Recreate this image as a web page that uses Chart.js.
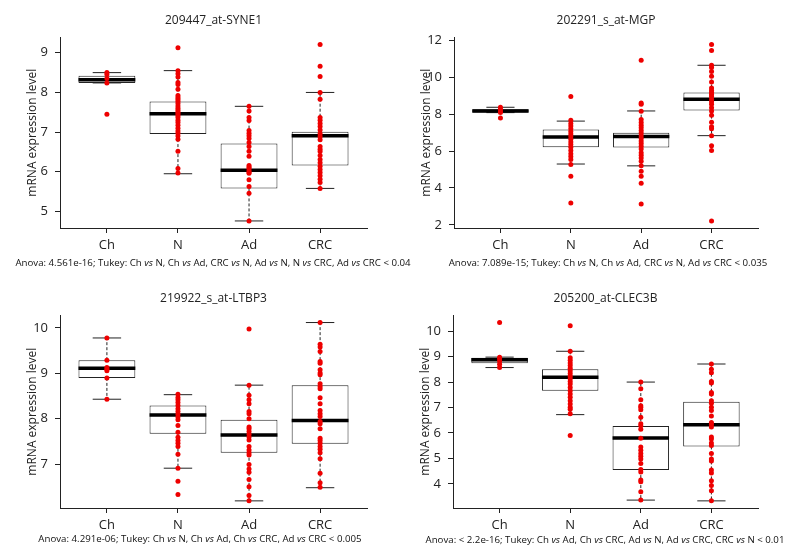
<!DOCTYPE html>
<html>
<head>
<meta charset="utf-8">
<script src="https://cdn.jsdelivr.net/npm/chart.js@4.4.0/dist/chart.umd.min.js"></script>
<style>
html, body { margin: 0; padding: 0; background: #fff; width: 800px; height: 557px; overflow: hidden; }
canvas { position: absolute; }
.note { position: absolute; font-family: 'Open Sans', sans-serif; font-size: 9.7px; color: #111; white-space: nowrap; transform: translate(-50%, -50%); }
</style>
</head>
<body>
<canvas id="c0" width="400" height="260" style="left:0px;top:0px"></canvas>
<canvas id="c1" width="400" height="260" style="left:394px;top:0px"></canvas>
<canvas id="c2" width="400" height="262" style="left:0px;top:278px"></canvas>
<canvas id="c3" width="400" height="262" style="left:393px;top:278px"></canvas>
<script>
// groups on the x axis
const groups = ['Ch', 'N', 'Ad', 'CRC'];

// box stats per group: [lower whisker, Q1, median, Q3, upper whisker]
const syne1Box = [[8.24, 8.24, 8.32, 8.42, 8.50], [5.95, 6.95, 7.46, 7.77, 8.55], [4.76, 5.58, 6.04, 6.71, 7.65], [5.58, 6.16, 6.91, 7.01, 8.00]];
const mgpBox = [[8.09, 8.09, 8.18, 8.27, 8.38], [5.30, 6.21, 6.77, 7.18, 7.63], [5.20, 6.20, 6.80, 7.00, 8.18], [6.84, 8.20, 8.82, 9.18, 10.66]];
const ltbp3Box = [[8.43, 8.90, 9.11, 9.29, 9.78], [6.91, 7.67, 8.08, 8.29, 8.53], [6.19, 7.25, 7.64, 7.98, 8.74], [6.48, 7.45, 7.96, 8.74, 10.12]];
const clec3bBox = [[8.57, 8.74, 8.88, 8.96, 8.98], [6.72, 7.66, 8.19, 8.50, 9.21], [3.36, 4.54, 5.80, 6.27, 8.00], [3.33, 5.47, 6.32, 7.23, 8.71]];

// individual samples per group
const syne1Points = [
    [8.50, 8.45, 8.35, 8.24, 7.45],
    [9.13, 8.55, 8.47, 8.39, 8.25, 8.20, 8.08, 7.92, 7.87, 7.83, 7.78, 7.72, 7.66, 7.60, 7.55, 7.50, 7.46, 7.42, 7.37, 7.30, 7.24, 7.17, 7.10, 7.03, 6.97, 6.90, 6.82, 6.52, 6.08, 5.97],
    [7.65, 7.53, 7.37, 7.29, 7.04, 6.97, 6.91, 6.84, 6.74, 6.64, 6.52, 6.39, 6.16, 6.12, 6.09, 6.03, 5.99, 5.96, 5.80, 5.63, 5.46, 4.76],
    [9.21, 8.66, 8.40, 8.00, 7.83, 7.37, 7.30, 7.22, 7.14, 7.05, 6.96, 6.89, 6.81, 6.64, 6.57, 6.51, 6.41, 6.31, 6.23, 6.14, 6.06, 5.98, 5.90, 5.81, 5.73, 5.58]
];
const mgpPoints = [
    [8.38, 8.27, 8.18, 8.09, 7.80],
    [8.96, 7.68, 7.50, 7.36, 7.21, 7.07, 6.93, 6.79, 6.64, 6.50, 6.36, 6.21, 6.04, 5.86, 5.71, 5.54, 5.27, 4.64, 3.18],
    [10.93, 8.61, 8.54, 8.16, 7.71, 7.55, 7.41, 7.27, 7.12, 6.98, 6.84, 6.70, 6.55, 6.41, 6.27, 6.12, 5.91, 5.77, 5.63, 5.45, 5.20, 4.91, 4.64, 4.25, 3.13],
    [11.79, 11.46, 10.66, 10.54, 10.32, 10.07, 9.75, 9.43, 9.29, 9.18, 9.07, 8.96, 8.82, 8.68, 8.54, 8.36, 8.18, 7.95, 7.57, 7.32, 7.21, 6.84, 6.29, 6.04, 2.21]
];
const ltbp3Points = [
    [9.78, 9.29, 9.13, 9.09, 9.06, 8.90, 8.43],
    [8.54, 8.47, 8.42, 8.36, 8.29, 8.22, 8.16, 8.10, 8.04, 7.98, 7.85, 7.70, 7.59, 7.52, 7.46, 7.39, 7.22, 6.91, 6.62, 6.33],
    [9.98, 8.74, 8.52, 8.42, 8.33, 8.16, 8.11, 8.00, 7.82, 7.78, 7.72, 7.66, 7.60, 7.53, 7.39, 7.31, 7.25, 7.20, 6.99, 6.89, 6.82, 6.66, 6.50, 6.31, 6.19],
    [10.12, 9.64, 9.58, 9.48, 9.26, 9.22, 9.08, 9.01, 8.97, 8.77, 8.71, 8.66, 8.46, 8.33, 8.18, 8.11, 8.05, 7.94, 7.89, 7.78, 7.57, 7.52, 7.46, 7.39, 7.33, 7.25, 7.12, 6.80, 6.59, 6.49]
];
const clec3bPoints = [
    [10.34, 8.98, 8.92, 8.83, 8.70, 8.57],
    [10.21, 9.21, 8.96, 8.86, 8.75, 8.65, 8.54, 8.44, 8.34, 8.23, 8.13, 8.02, 7.92, 7.79, 7.66, 7.53, 7.40, 7.27, 7.14, 7.01, 6.93, 6.75, 5.90],
    [8.00, 7.74, 7.30, 7.07, 7.01, 6.91, 6.62, 6.36, 6.28, 6.15, 5.79, 5.45, 5.32, 5.19, 5.08, 4.98, 4.80, 4.56, 4.46, 4.15, 4.08, 3.69, 3.36],
    [8.71, 8.50, 8.37, 8.02, 7.96, 7.59, 7.53, 7.27, 7.17, 7.01, 6.88, 6.67, 6.41, 6.33, 6.23, 5.84, 5.76, 5.60, 5.51, 5.19, 4.98, 4.90, 4.54, 4.43, 4.12, 3.93, 3.73, 3.33]
];

const titles = ['209447_at-SYNE1', '202291_s_at-MGP', '219922_s_at-LTBP3', '205200_at-CLEC3B'];
const yStep = [1, 2, 1, 1];
const notes = [
    'Anova: 4.561e-16; Tukey: Ch vs N, Ch vs Ad, CRC vs N, Ad vs N, N vs CRC, Ad vs CRC < 0.04',
    'Anova: 7.089e-15; Tukey: Ch vs N, Ch vs Ad, CRC vs N, Ad vs CRC < 0.035',
    'Anova: 4.291e-06; Tukey: Ch vs N, Ch vs Ad, Ch vs CRC, Ad vs CRC < 0.005',
    'Anova: < 2.2e-16; Tukey: Ch vs Ad, Ch vs CRC, Ad vs N, Ad vs CRC, CRC vs N < 0.01'
];

// layout of the four panels
const padRight = [33, 36, 33, 35];
const notePos = [[213, 262], [608, 262], [200, 538], [605, 539]];

const FONT = "'Open Sans', sans-serif";
const INK = '#222';
const BOX_HALF = 0.4;
const CAP_HALF = 0.2;

function makePanel(n, box, points) {
    const all = points.flat().concat(box.flat());
    const lo = Math.min(...all);
    const hi = Math.max(...all);
    const pad = (hi - lo) * 0.04;

    let pointData = [];
    let boxData = [];
    let medData = [];
    let whiskData = [];
    let capData = [];

    points.forEach((vals, i) => {
        vals.forEach(v => pointData.push({x: i, y: v}));
    });
    box.forEach((b, i) => {
        const [mn, q1, md, q3, mx] = b;
        boxData.push({x: i, y: [q1, q3]});
        medData.push({x: i - BOX_HALF, y: md}, {x: i + BOX_HALF, y: md}, {x: i, y: null});
        whiskData.push({x: i, y: q3}, {x: i, y: mx}, {x: i, y: null});
        whiskData.push({x: i, y: q1}, {x: i, y: mn}, {x: i, y: null});
        capData.push({x: i - CAP_HALF, y: mx}, {x: i + CAP_HALF, y: mx}, {x: i, y: null});
        capData.push({x: i - CAP_HALF, y: mn}, {x: i + CAP_HALF, y: mn}, {x: i, y: null});
    });

    const axisLines = {display: true, offset: false, drawOnChartArea: false, drawTicks: true, tickLength: 5, color: INK, tickColor: INK};

    new Chart(document.getElementById('c' + n), {
        type: 'scatter',
        data: {
            datasets: [
                {data: pointData, pointRadius: 2.5, pointBackgroundColor: '#ee0000', pointBorderWidth: 0},
                {data: medData, showLine: true, pointRadius: 0, borderColor: '#000', borderWidth: 3.5, borderCapStyle: 'butt'},
                {data: capData, showLine: true, pointRadius: 0, borderColor: INK, borderWidth: 1},
                {data: whiskData, showLine: true, pointRadius: 0, borderColor: INK, borderWidth: 1, borderDash: [3, 2]},
                {type: 'bar', data: boxData, backgroundColor: '#fff', borderColor: INK, borderWidth: 1,
                    borderSkipped: false, barPercentage: 1, categoryPercentage: BOX_HALF * 2}
            ]
        },
        options: {
            responsive: false,
            animation: false,
            layout: {padding: {left: 0, right: padRight[n], top: 0, bottom: 0}},
            plugins: {
                legend: {display: false},
                tooltip: {enabled: false},
                title: {
                    display: true, text: titles[n], fullSize: false, color: INK,
                    font: {family: FONT, size: 12, weight: 'normal'},
                    padding: {top: 13, bottom: 10}
                }
            },
            scales: {
                x: {
                    type: 'linear', min: -0.66, max: 3.66, offset: false,
                    grid: axisLines,
                    border: {display: true, color: INK, width: 1},
                    ticks: {
                        stepSize: 1, includeBounds: false, padding: 4, color: INK,
                        font: {family: FONT, size: 13},
                        callback: v => groups[v] !== undefined ? groups[v] : ''
                    },
                    afterFit: s => { s.height = 32; }
                },
                y: {
                    type: 'linear', min: lo - pad, max: hi + pad, offset: false,
                    grid: axisLines,
                    border: {display: true, color: INK, width: 1},
                    ticks: {stepSize: yStep[n], includeBounds: false, padding: 7, color: INK, font: {family: FONT, size: 13}},
                    title: {
                        display: true, text: 'mRNA expression level', color: INK,
                        font: {family: FONT, size: 12}, padding: {top: 25, bottom: 0}
                    },
                    afterFit: s => { s.width = 60; }
                }
            }
        }
    });

    // caption with italic "vs"
    const note = document.createElement('div');
    note.className = 'note';
    note.style.left = notePos[n][0] + 'px';
    note.style.top = notePos[n][1] + 'px';
    note.innerHTML = notes[n].replace('<', '&lt;').split(' vs ').join(' <i>vs</i> ');
    document.body.appendChild(note);
}

makePanel(0, syne1Box, syne1Points);
makePanel(1, mgpBox, mgpPoints);
makePanel(2, ltbp3Box, ltbp3Points);
makePanel(3, clec3bBox, clec3bPoints);
</script>
</body>
</html>
